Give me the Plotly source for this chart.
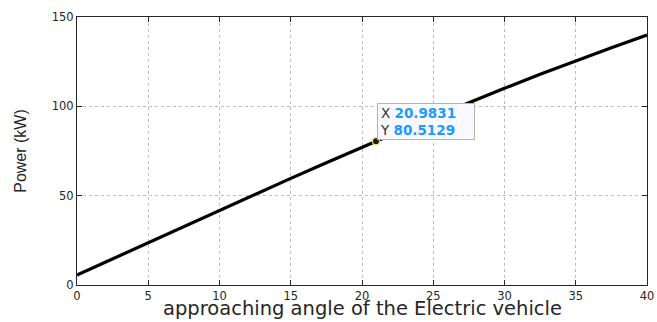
import plotly.graph_objects as go

# Approaching angle (deg) and the resulting charging power (kW)
angle = [0, 2.5, 5, 7.5, 10, 12.5, 15, 17.5, 20, 22.5, 25, 27.5, 30, 32.5, 35, 37.5, 40]
power = [5.6, 14.7, 23.8, 32.9, 41.9, 50.8, 59.7, 68.4, 77.1, 85.6, 93.9, 102.1, 110.1, 117.9, 125.5, 132.8, 139.9]

# Highlighted data point
tip_x = 20.9831
tip_y = 80.5129

x_ticks = [0, 5, 10, 15, 20, 25, 30, 35, 40]
y_ticks = [0, 50, 100, 150]

fig = go.Figure()
fig.add_trace(go.Scatter(
    x=angle, y=power, mode="lines",
    line=dict(color="#000000", width=3.2),
    showlegend=False, hoverinfo="skip",
))
fig.add_trace(go.Scatter(
    x=[tip_x], y=[tip_y], mode="markers",
    marker=dict(color="#1a1a10", size=7, line=dict(color="#e8e070", width=1.2)),
    showlegend=False, hoverinfo="skip",
))

fig.add_annotation(
    x=tip_x, y=tip_y, xref="x", yref="y",
    xanchor="left", yanchor="bottom", xshift=1, yshift=1,
    showarrow=False, align="left", valign="middle",
    width=92, height=31, borderpad=2, borderwidth=1,
    bordercolor="#b4b4b4", bgcolor="#f9f9ff",
    font=dict(family="DejaVu Sans", size=13.5, color="#333333"),
    text=(f"X <b><span style='color:#1a9cff'>{tip_x:.4f}</span></b><br>"
          f"Y <b><span style='color:#1a9cff'>{tip_y:.4f}</span></b>"),
)

# x-axis title placed just under the tick labels
fig.add_annotation(
    x=0.5, y=-0.138, xref="paper", yref="paper",
    xanchor="center", yanchor="bottom", showarrow=False,
    text="approaching angle of the Electric vehicle",
    font=dict(family="DejaVu Sans", size=19.5, color="#262626"),
)

axis_common = dict(
    showline=True, linecolor="#262626", linewidth=1, mirror="ticks",
    ticks="inside", ticklen=5, tickcolor="#262626", tickwidth=1,
    showgrid=True, gridcolor="#bcbcbc", griddash="dot", gridwidth=1,
    zeroline=False, automargin=False,
    tickfont=dict(family="DejaVu Sans", size=11.5, color="#262626"),
)

fig.update_xaxes(
    range=[0, 40], tickvals=x_ticks, ticktext=[str(v) for v in x_ticks],
    **axis_common,
)
fig.update_yaxes(
    range=[0, 150], tickvals=y_ticks, ticktext=[str(v) for v in y_ticks],
    title=dict(text="Power (kW)",
               font=dict(family="Liberation Sans", size=16, color="#262626"),
               standoff=21),
    **axis_common,
)

fig.update_layout(
    width=657, height=322,
    margin=dict(l=77, r=10, t=17, b=37),
    paper_bgcolor="#ffffff", plot_bgcolor="#ffffff",
)

fig.write_html("out.html")
